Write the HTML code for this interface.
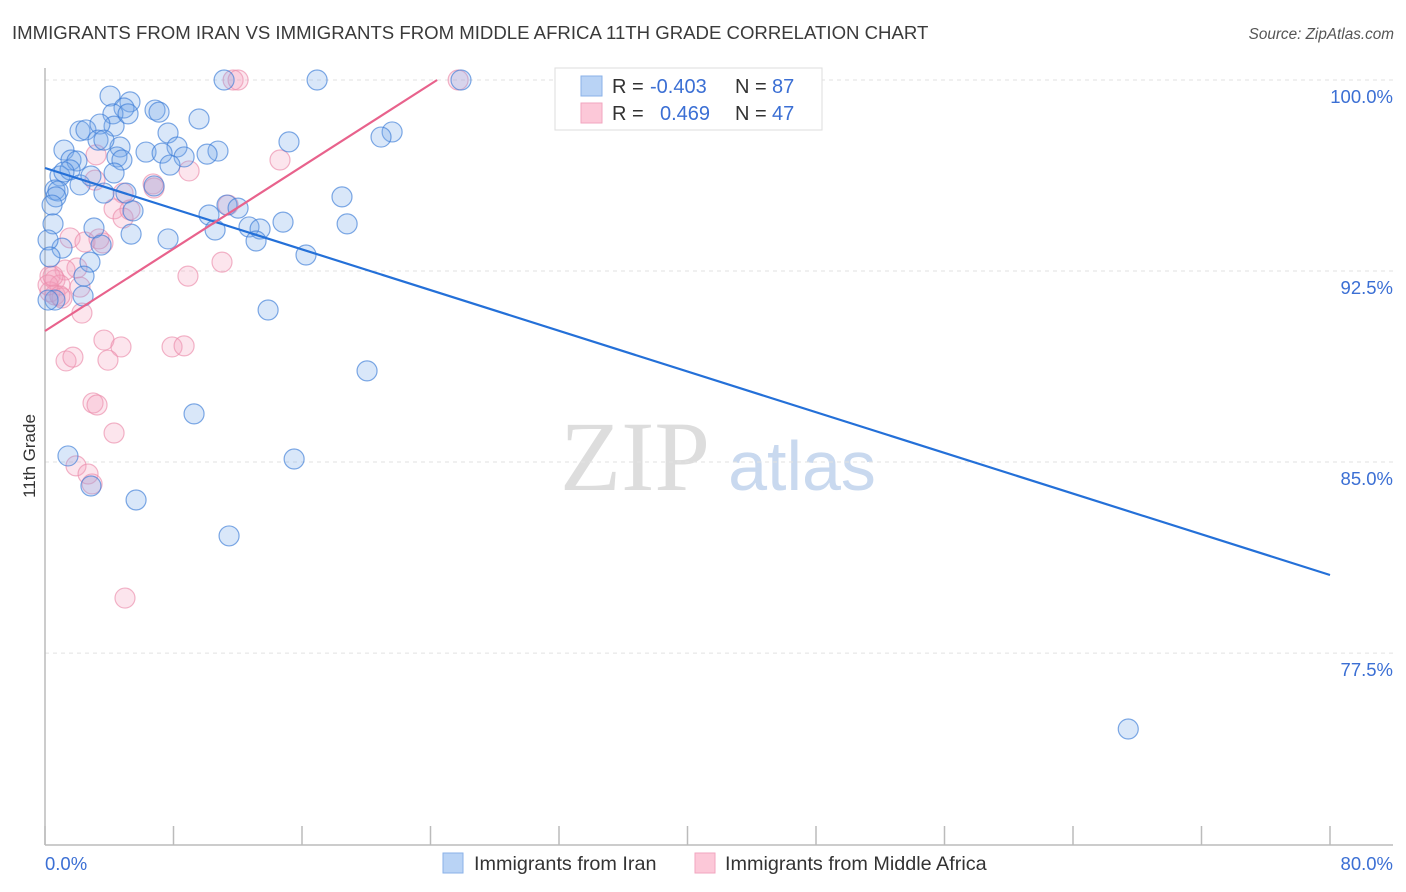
<!DOCTYPE html>
<html><head><meta charset="utf-8"><style>
body{margin:0;background:#fff;font-family:"Liberation Sans",sans-serif;}
svg{display:block}
</style></head><body>
<svg id="chart" width="1406" height="892">
<text x="12" y="39" font-size="18.6" fill="#3a3a3a">IMMIGRANTS FROM IRAN VS IMMIGRANTS FROM MIDDLE AFRICA 11TH GRADE CORRELATION CHART</text>
<text x="1394" y="39" font-size="15.3" font-style="italic" fill="#555" text-anchor="end">Source: ZipAtlas.com</text>
<text x="35" y="456" font-size="17" fill="#333" text-anchor="middle" transform="rotate(-90 35 456)">11th Grade</text>
<g><text x="635" y="490" font-size="100" font-family="Liberation Serif,serif" fill="#ddd" text-anchor="middle">ZIP</text><text x="802" y="490" font-size="70" fill="#c9d9ef" text-anchor="middle">atlas</text></g>
<g id="grid"></g><g id="axes"></g><g id="pts"></g><g id="lines"></g>
<g>
<rect x="555" y="68" width="267" height="62" fill="#fff" stroke="#ddd"/>
<rect x="581" y="76" width="21" height="20" fill="#b9d3f5" stroke="#8ab2e8"/>
<rect x="581" y="103" width="21" height="20" fill="#fcc8d8" stroke="#f2a6bf"/>
<text x="612" y="93" font-size="20" fill="#333">R = <tspan fill="#3b6fd4" x="650">-0.403</tspan></text>
<text x="735" y="93" font-size="20" fill="#333">N = <tspan fill="#3b6fd4" x="772">87</tspan></text>
<text x="612" y="120" font-size="20" fill="#333">R = <tspan fill="#3b6fd4" x="660">0.469</tspan></text>
<text x="735" y="120" font-size="20" fill="#333">N = <tspan fill="#3b6fd4" x="772">47</tspan></text>
</g>
<g>
<rect x="443" y="853" width="20" height="20" fill="#b9d3f5" stroke="#8ab2e8"/>
<text x="474" y="870" font-size="19.8" fill="#333">Immigrants from Iran</text>
<rect x="695" y="853" width="20" height="20" fill="#fcc8d8" stroke="#f2a6bf"/>
<text x="725" y="870" font-size="19.8" fill="#333">Immigrants from Middle Africa</text>
</g>
</svg>
<script>
const yTicks=[100,92.5,85,77.5];
const yTickLabels=["100.0%","92.5%","85.0%","77.5%"];
const xTickValues=[0,8,16,24,32,40,48,56,64,72,80];
const xEndLabels=["0.0%","80.0%"];
const iranX=[11.15,16.94,25.90,4.05,5.29,6.85,4.92,7.10,4.23,9.59,4.30,5.17,2.18,2.55,3.42,7.66,21.61,20.92,15.19,1.18,3.30,4.67,3.67,8.22,6.29,7.29,8.66,10.77,10.09,1.62,1.99,4.48,4.79,7.78,4.30,0.93,1.56,1.18,0.62,0.81,2.18,2.86,3.67,5.04,6.79,18.49,11.33,12.02,5.48,10.21,0.68,0.44,0.50,3.05,5.36,7.66,10.59,12.70,13.39,13.14,14.82,18.81,16.25,1.06,0.19,0.31,2.80,2.43,2.37,0.62,0.19,13.89,20.05,9.28,1.43,15.51,2.86,5.67,11.46,67.44,3.49];
const iranY=[100,100,100,99.37,99.14,98.82,98.90,98.74,98.67,98.47,98.19,98.67,98.0,98.04,98.27,97.92,97.96,97.76,97.57,97.25,97.64,97.37,97.64,97.37,97.17,97.13,96.98,97.21,97.09,96.86,96.82,96.98,96.86,96.66,96.35,96.23,96.47,96.39,95.68,95.64,95.88,96.23,95.56,95.56,95.84,95.41,95.09,94.97,94.86,94.70,95.41,95.09,94.35,94.19,93.95,93.76,94.11,94.23,94.15,93.68,94.42,94.35,93.13,93.40,93.72,93.05,92.85,92.30,91.52,91.36,91.36,90.97,88.58,86.89,85.24,85.12,84.06,83.51,82.10,74.52,93.52];
const afrX=[11.71,12.02,25.72,14.63,3.18,8.97,6.73,6.79,4.86,4.30,11.40,4.86,1.56,2.49,3.61,3.36,8.90,11.02,1.99,1.25,2.18,0.31,0.62,0.93,0.31,0.62,1.06,0.19,2.30,3.67,4.73,3.92,7.91,8.66,1.31,1.74,2.99,3.24,4.30,1.93,2.68,2.93,4.98,3.11,5.29,0.50,0.93];
const afrY=[100,100,100,96.86,97.06,96.43,95.92,95.76,95.56,94.94,95.09,94.58,93.80,93.64,93.60,93.76,92.30,92.85,92.62,92.54,91.87,92.30,92.15,91.95,91.68,91.56,91.44,91.95,90.85,89.79,89.52,89.0,89.52,89.56,88.97,89.12,87.32,87.24,86.14,84.85,84.53,84.14,79.66,96.07,94.90,92.30,91.52];
const iranLine=[96.545,-0.19975];
const afrLine=[90.145,0.4037];
const NS="http://www.w3.org/2000/svg";
const X0=45,X1=1330,Y100=80,PY=25.47;
const sx=v=>X0+(X1-X0)*v/80;
const sy=v=>Y100+(100-v)*PY;
function mk(tag,attrs,parent){const e=document.createElementNS(NS,tag);for(const k in attrs)e.setAttribute(k,attrs[k]);document.getElementById(parent).appendChild(e);return e;}
yTicks.forEach((t,i)=>{
 const l=mk('line',{x1:45,x2:1393,y1:sy(t),y2:sy(t),stroke:'#e2e2e2','stroke-dasharray':'4,4'},'grid');
 
 
 const tx=mk('text',{x:1393,y:sy(t)+23,'font-size':18.5,fill:'#3b6fd4','text-anchor':'end'},'grid');
 tx.textContent=yTickLabels[i];
 
 
});
let a=mk('line',{x1:45,x2:45,y1:68,y2:845,stroke:'#bbb','stroke-width':1.5},'axes');


a=mk('line',{x1:45,x2:1393,y1:845,y2:845,stroke:'#bbb','stroke-width':1.5},'axes');


xTickValues.forEach(v=>{const t=mk('line',{x1:sx(v),x2:sx(v),y1:826,y2:845,stroke:'#bbb','stroke-width':1.5},'axes');
 
 });
let xl=mk('text',{x:45,y:870,'font-size':18.5,fill:'#3b6fd4'},'axes');xl.textContent=xEndLabels[0];


xl=mk('text',{x:1393,y:870,'font-size':18.5,fill:'#3b6fd4','text-anchor':'end'},'axes');xl.textContent=xEndLabels[1];


afrX.forEach((x,i)=>{const c=mk('circle',{cx:sx(x),cy:sy(afrY[i]),r:10,fill:'rgba(245,160,190,0.28)',stroke:'rgba(235,140,170,0.65)','stroke-width':1.2},'pts');
 
 });
iranX.forEach((x,i)=>{const c=mk('circle',{cx:sx(x),cy:sy(iranY[i]),r:10,fill:'rgba(120,170,235,0.28)',stroke:'rgba(60,125,215,0.65)','stroke-width':1.2},'pts');
 
 });
let ln=mk('line',{x1:sx(0),y1:sy(iranLine[0]),x2:sx(80),y2:sy(iranLine[0]+iranLine[1]*80),stroke:'#2470d8','stroke-width':2.2},'lines');


const xe=(100-afrLine[0])/afrLine[1];
ln=mk('line',{x1:sx(0),y1:sy(afrLine[0]),x2:sx(xe),y2:sy(100),stroke:'#e8628c','stroke-width':2.2},'lines');


</script>
</body></html>
